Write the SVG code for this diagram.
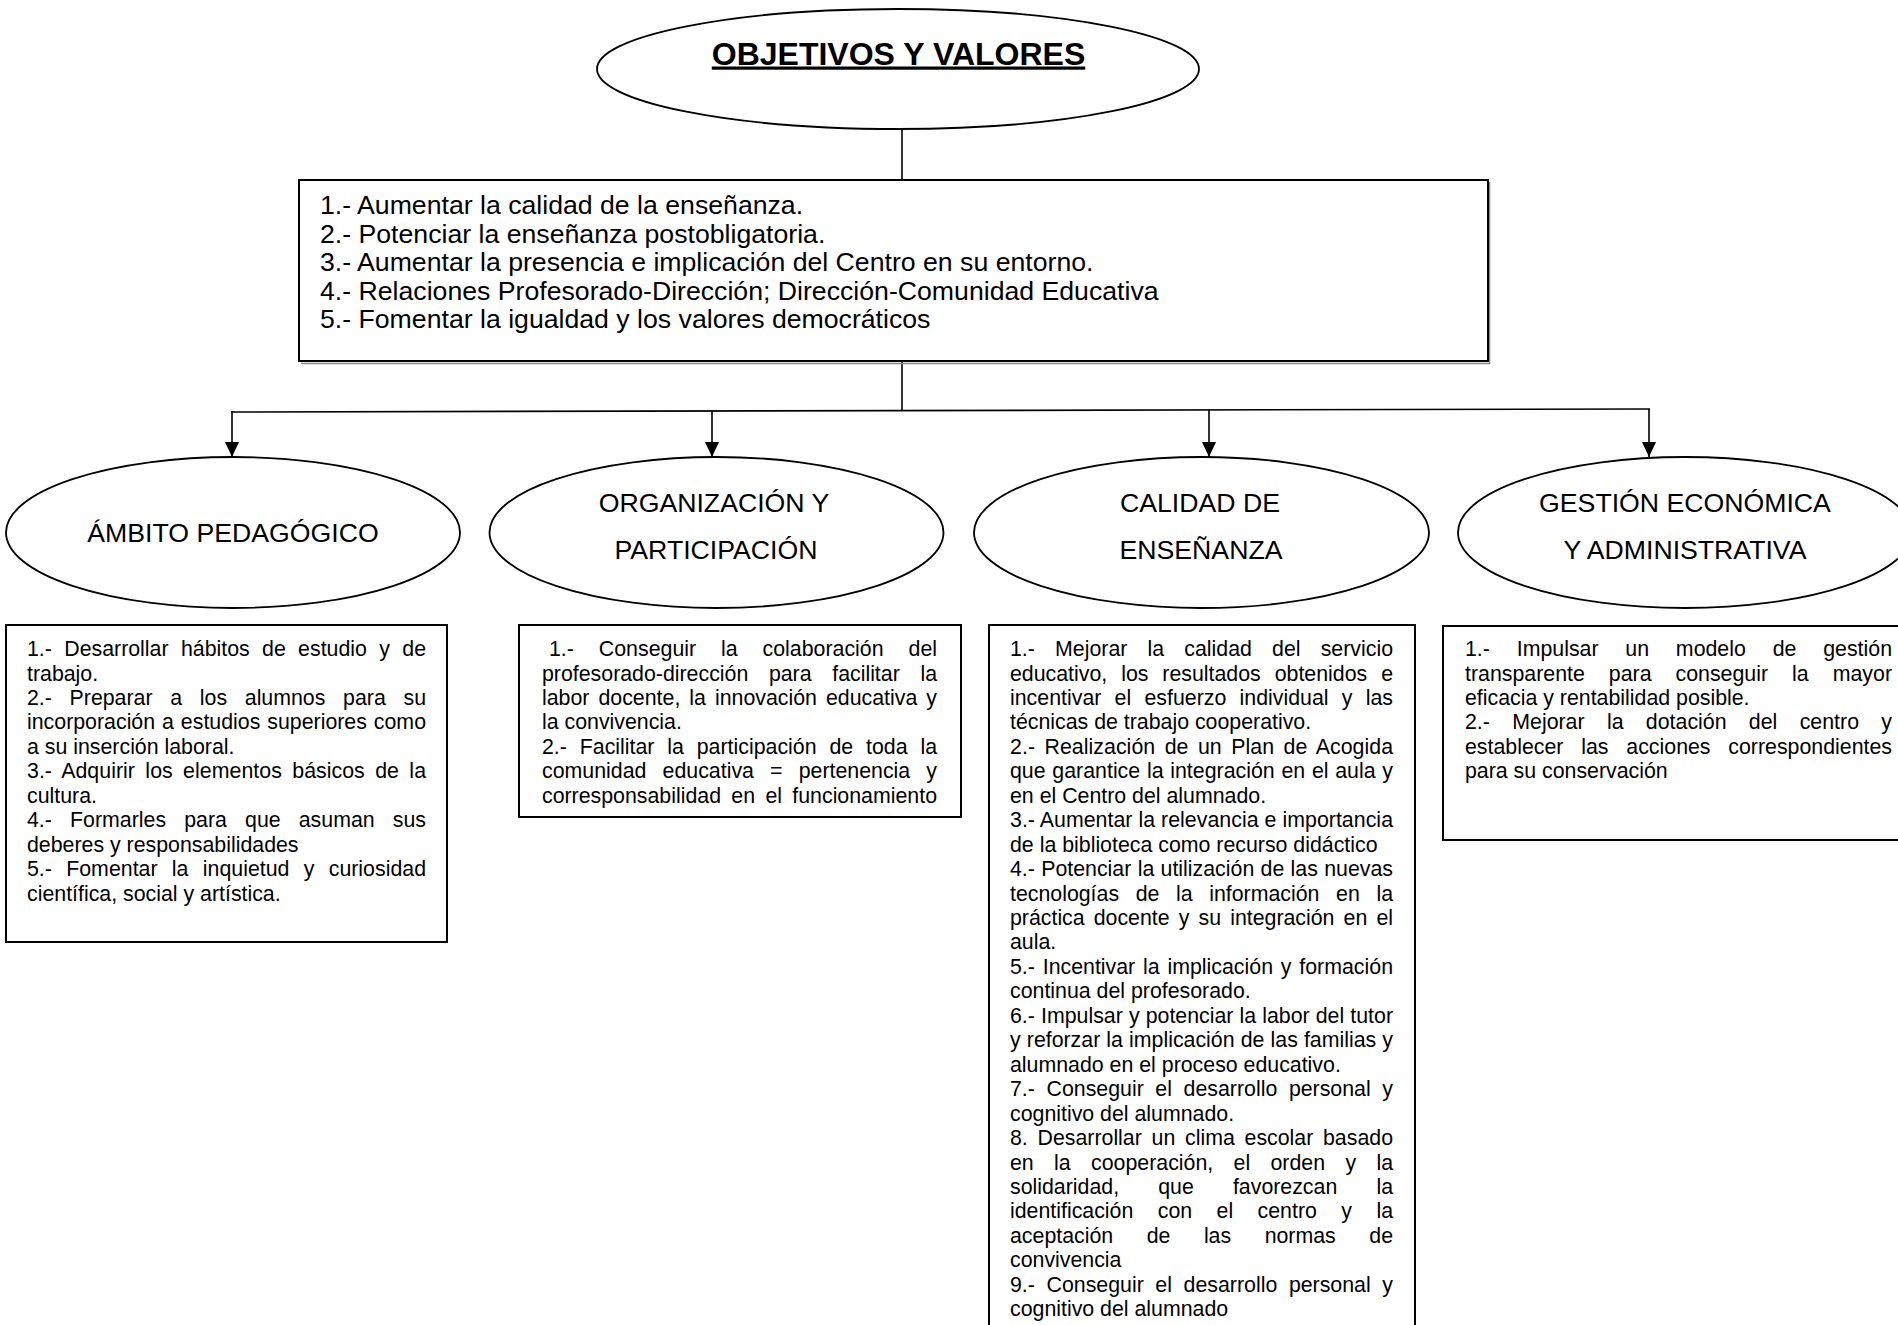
<svg xmlns="http://www.w3.org/2000/svg" width="1898" height="1325" viewBox="0 0 1898 1325">
<style>
text{font-family:"Liberation Sans",Arial,sans-serif;fill:#000}
.t{font-size:21.33px}
.tb{font-size:26.67px}
.lab{font-size:26.67px;text-anchor:middle}
.title{font-size:32px;font-weight:bold;text-anchor:middle;text-decoration:underline}
.el{fill:#fff;stroke:#000;stroke-width:1.8}
.box{fill:#fff;stroke:#000;stroke-width:2}
.c{stroke:#000;stroke-width:1.6;fill:none}
.ca{stroke:#000;stroke-width:1.6;fill:none;marker-end:url(#ah)}
</style>
<defs>
<marker id="ah" markerUnits="userSpaceOnUse" markerWidth="16" markerHeight="16" refX="15" refY="7" orient="auto">
<path d="M0,0 L15,7 L0,14 z" fill="#000"/>
</marker>
</defs>
<rect width="1898" height="1325" fill="#fff"/>

<g id="connectors">
<line class="c" x1="902" y1="129" x2="902" y2="180"/>
<line class="c" x1="902" y1="362" x2="902" y2="410.5"/>
<line class="c" x1="231" y1="412" x2="1650" y2="409"/>
<line class="ca" x1="232" y1="411" x2="232" y2="457"/>
<line class="ca" x1="712" y1="411" x2="712" y2="457"/>
<line class="ca" x1="1209" y1="410" x2="1209" y2="457"/>
<line class="ca" x1="1649" y1="409" x2="1649" y2="457"/>
</g>

<g id="objetivos">
<ellipse class="el" cx="898" cy="69" rx="301" ry="60"/>
<text class="title" x="898.5" y="64.5">OBJETIVOS Y VALORES</text>
</g>

<g id="objetivos-generales">
<line x1="301" y1="363.5" x2="1490" y2="363.5" stroke="#888" stroke-width="1.5"/>
<line x1="1489.5" y1="182" x2="1489.5" y2="364" stroke="#888" stroke-width="1.5"/>
<rect class="box" x="299" y="180" width="1189" height="181"/>
<text class="tb" x="320" y="214">1.- Aumentar la calidad de la enseñanza.</text>
<text class="tb" x="320" y="242.5">2.- Potenciar la enseñanza postobligatoria.</text>
<text class="tb" x="320" y="271">3.- Aumentar la presencia e implicación del Centro en su entorno.</text>
<text class="tb" x="320" y="299.5">4.- Relaciones Profesorado-Dirección; Dirección-Comunidad Educativa</text>
<text class="tb" x="320" y="328">5.- Fomentar la igualdad y los valores democráticos</text>
</g>

<g id="ambito-pedagogico">
<ellipse class="el" cx="233" cy="532.5" rx="227" ry="75.5"/>
<text class="lab" x="233" y="542">ÁMBITO PEDAGÓGICO</text>
</g>

<g id="organizacion">
<ellipse class="el" cx="716.5" cy="532.5" rx="227" ry="75.5"/>
<text class="lab" x="714" y="512">ORGANIZACIÓN Y</text>
<text class="lab" x="716" y="558.5">PARTICIPACIÓN</text>
</g>

<g id="calidad">
<ellipse class="el" cx="1201.5" cy="532.5" rx="227.5" ry="75.5"/>
<text class="lab" x="1200" y="512">CALIDAD DE</text>
<text class="lab" x="1201" y="558.5">ENSEÑANZA</text>
</g>

<g id="gestion">
<ellipse class="el" cx="1685" cy="532.5" rx="227" ry="75.5"/>
<text class="lab" x="1685" y="512">GESTIÓN ECONÓMICA</text>
<text class="lab" x="1685" y="558.5">Y ADMINISTRATIVA</text>
</g>

<g id="box-ambito">
<rect class="box" x="6" y="625" width="441" height="317"/>
<text class="t" x="27" y="656" textLength="399" lengthAdjust="spacing" word-spacing="6.4">1.- Desarrollar hábitos de estudio y de</text>
<text class="t" x="27" y="680.5">trabajo.</text>
<text class="t" x="27" y="704.9" textLength="399" lengthAdjust="spacing" word-spacing="11.8">2.- Preparar a los alumnos para su</text>
<text class="t" x="27" y="729.4" textLength="399" lengthAdjust="spacing" word-spacing="1">incorporación a estudios superiores como</text>
<text class="t" x="27" y="753.8">a su inserción laboral.</text>
<text class="t" x="27" y="778.3" textLength="399" lengthAdjust="spacing" word-spacing="4.4">3.- Adquirir los elementos básicos de la</text>
<text class="t" x="27" y="802.7">cultura.</text>
<text class="t" x="27" y="827.2" textLength="399" lengthAdjust="spacing" word-spacing="12.2">4.- Formarles para que asuman sus</text>
<text class="t" x="27" y="851.6">deberes y responsabilidades</text>
<text class="t" x="27" y="876.1" textLength="399" lengthAdjust="spacing" word-spacing="8.4">5.- Fomentar la inquietud y curiosidad</text>
<text class="t" x="27" y="900.5">científica, social y artística.</text>
</g>

<g id="box-organizacion">
<rect class="box" x="519" y="625" width="442" height="192"/>
<text class="t" x="549" y="656" textLength="388" lengthAdjust="spacing" word-spacing="19">1.- Conseguir la colaboración del</text>
<text class="t" x="542" y="680.5" textLength="395" lengthAdjust="spacing" word-spacing="14.7">profesorado-dirección para facilitar la</text>
<text class="t" x="542" y="704.9" textLength="395" lengthAdjust="spacing" word-spacing="3.1">labor docente, la innovación educativa y</text>
<text class="t" x="542" y="729.4">la convivencia.</text>
<text class="t" x="542" y="753.8" textLength="395" lengthAdjust="spacing" word-spacing="6.9">2.- Facilitar la participación de toda la</text>
<text class="t" x="542" y="778.3" textLength="395" lengthAdjust="spacing" word-spacing="10.2">comunidad educativa = pertenencia y</text>
<text class="t" x="542" y="802.7" textLength="395" lengthAdjust="spacing" word-spacing="4.4">corresponsabilidad en el funcionamiento</text>
</g>

<g id="box-calidad">
<rect class="box" x="989" y="625" width="426" height="730"/>
<text class="t" x="1010" y="656" textLength="383" lengthAdjust="spacing" word-spacing="14.2">1.- Mejorar la calidad del servicio</text>
<text class="t" x="1010" y="680.5" textLength="383" lengthAdjust="spacing" word-spacing="8">educativo, los resultados obtenidos e</text>
<text class="t" x="1010" y="704.9" textLength="383" lengthAdjust="spacing" word-spacing="7.3">incentivar el esfuerzo individual y las</text>
<text class="t" x="1010" y="729.4">técnicas de trabajo cooperativo.</text>
<text class="t" x="1010" y="753.8" textLength="383" lengthAdjust="spacing" word-spacing="3.5">2.- Realización de un Plan de Acogida</text>
<text class="t" x="1010" y="778.3" textLength="383" lengthAdjust="spacing" word-spacing="0.8">que garantice la integración en el aula y</text>
<text class="t" x="1010" y="802.7">en el Centro del alumnado.</text>
<text class="t" x="1010" y="827.2" textLength="383" lengthAdjust="spacing">3.- Aumentar la relevancia e importancia</text>
<text class="t" x="1010" y="851.6">de la biblioteca como recurso didáctico</text>
<text class="t" x="1010" y="876.1" textLength="383" lengthAdjust="spacing" word-spacing="0.4">4.- Potenciar la utilización de las nuevas</text>
<text class="t" x="1010" y="900.5" textLength="383" lengthAdjust="spacing" word-spacing="10.7">tecnologías de la información en la</text>
<text class="t" x="1010" y="925" textLength="383" lengthAdjust="spacing" word-spacing="3.2">práctica docente y su integración en el</text>
<text class="t" x="1010" y="949.4">aula.</text>
<text class="t" x="1010" y="973.9" textLength="383" lengthAdjust="spacing" word-spacing="1.9">5.- Incentivar la implicación y formación</text>
<text class="t" x="1010" y="998.3">continua del profesorado.</text>
<text class="t" x="1010" y="1022.8" textLength="383" lengthAdjust="spacing" word-spacing="0.2">6.- Impulsar y potenciar la labor del tutor</text>
<text class="t" x="1010" y="1047.2" textLength="383" lengthAdjust="spacing" word-spacing="0.2">y reforzar la implicación de las familias y</text>
<text class="t" x="1010" y="1071.7">alumnado en el proceso educativo.</text>
<text class="t" x="1010" y="1096.1" textLength="383" lengthAdjust="spacing" word-spacing="5.7">7.- Conseguir el desarrollo personal y</text>
<text class="t" x="1010" y="1120.6">cognitivo del alumnado.</text>
<text class="t" x="1010" y="1145" textLength="383" lengthAdjust="spacing" word-spacing="3.8">8. Desarrollar un clima escolar basado</text>
<text class="t" x="1010" y="1169.5" textLength="383" lengthAdjust="spacing" word-spacing="14.4">en la cooperación, el orden y la</text>
<text class="t" x="1010" y="1193.9" textLength="383" lengthAdjust="spacing" word-spacing="33.2">solidaridad, que favorezcan la</text>
<text class="t" x="1010" y="1218.4" textLength="383" lengthAdjust="spacing" word-spacing="18.5">identificación con el centro y la</text>
<text class="t" x="1010" y="1242.8" textLength="383" lengthAdjust="spacing" word-spacing="27.6">aceptación de las normas de</text>
<text class="t" x="1010" y="1267.3">convivencia</text>
<text class="t" x="1010" y="1291.7" textLength="383" lengthAdjust="spacing" word-spacing="5.7">9.- Conseguir el desarrollo personal y</text>
<text class="t" x="1010" y="1316.2">cognitivo del alumnado</text>
</g>

<g id="box-gestion">
<rect class="box" x="1443" y="626" width="470" height="214"/>
<text class="t" x="1465" y="656" textLength="427" lengthAdjust="spacing" word-spacing="20.9">1.- Impulsar un modelo de gestión</text>
<text class="t" x="1465" y="680.5" textLength="427" lengthAdjust="spacing" word-spacing="18.1">transparente para conseguir la mayor</text>
<text class="t" x="1465" y="704.9">eficacia y rentabilidad posible.</text>
<text class="t" x="1465" y="729.4" textLength="427" lengthAdjust="spacing" word-spacing="16.4">2.- Mejorar la dotación del centro y</text>
<text class="t" x="1465" y="753.8" textLength="427" lengthAdjust="spacing" word-spacing="11.9">establecer las acciones correspondientes</text>
<text class="t" x="1465" y="778.3">para su conservación</text>
</g>
</svg>
